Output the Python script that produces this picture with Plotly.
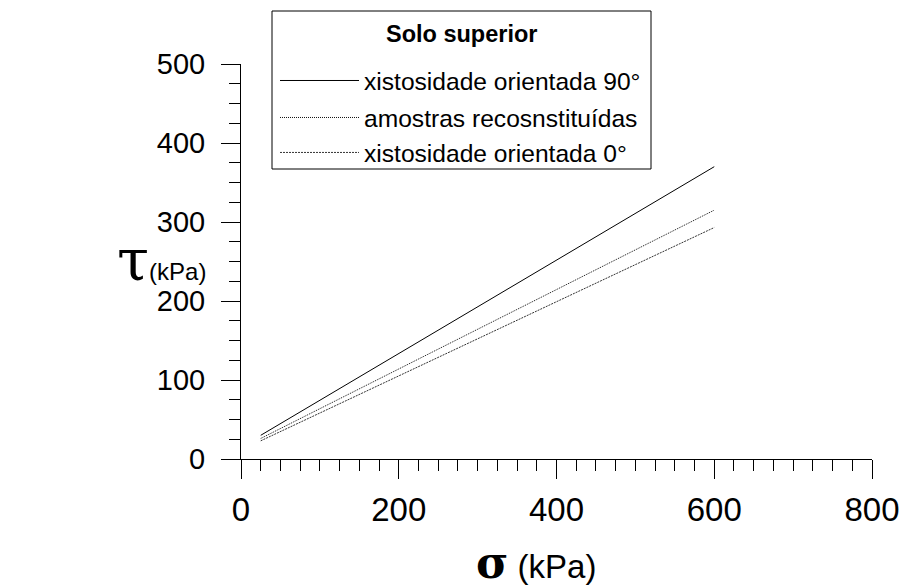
import plotly.graph_objects as go

# Data
sigma = [25, 600]
tau_90 = [30, 370]
tau_rec = [26, 315]
tau_0 = [23, 293]
names = ["xistosidade orientada 90°", "amostras recosnstituídas", "xistosidade orientada 0°"]
legend_title = "Solo superior"
x_ticks = [0, 200, 400, 600, 800]
y_ticks = [0, 100, 200, 300, 400, 500]

W, H = 904, 587
L, R, T, B = 241, 32, 64, 128
pw = W - L - R
ph = H - T - B

def px(xp):
    return (xp - L) / pw

def py(yp):
    return (H - B - yp) / ph

fig = go.Figure()
fig.add_trace(go.Scatter(x=sigma, y=tau_90, mode="lines", name=names[0], legendgroup="a",
                         line=dict(color="black", width=1)))
fig.add_trace(go.Scatter(x=sigma, y=tau_rec, mode="lines", name=names[1], legendgroup="b",
                         line=dict(color="#111111", width=1, dash="1px,1px")))
fig.add_trace(go.Scatter(x=sigma, y=tau_0, mode="lines", name=names[2], legendgroup="b",
                         line=dict(color="#333333", width=1, dash="2px,1px")))

fig.update_layout(
    width=W, height=H,
    margin=dict(l=L, r=R, t=T, b=B, pad=0, autoexpand=False),
    paper_bgcolor="white", plot_bgcolor="white",
    font=dict(family="Liberation Sans, Arial, sans-serif", color="black"),
    showlegend=True,
    legend=dict(
        x=px(275), y=py(58), xanchor="left", yanchor="top",
        borderwidth=0, bgcolor="rgba(0,0,0,0)",
        font=dict(size=24.6, color="black"),
        itemwidth=79, traceorder="grouped", tracegroupgap=2,
    ),
)

# legend frame and title
fig.add_shape(type="rect", xref="paper", yref="paper",
              x0=px(272), x1=px(651), y0=py(169), y1=py(11),
              line=dict(color="black", width=1), fillcolor="rgba(0,0,0,0)", layer="above")
fig.add_annotation(xref="paper", yref="paper", x=px(461), y=py(34), xanchor="center", yanchor="middle",
                   text="<b>" + legend_title + "</b>", font=dict(size=23.5), showarrow=False)

fig.update_xaxes(
    range=[0, 800], tickvals=x_ticks, showgrid=False, zeroline=False,
    showline=True, linecolor="black", linewidth=1, automargin=False,
    ticks="outside", ticklen=19, tickwidth=1, tickcolor="black",
    tickfont=dict(size=33), ticklabelstandoff=2,
    minor=dict(dtick=25, ticks="outside", ticklen=11, tickcolor="black", tickwidth=1, showgrid=False),
)
fig.update_yaxes(
    range=[0, 500], tickvals=y_ticks, showgrid=False, zeroline=False,
    showline=True, linecolor="black", linewidth=1, automargin=False,
    ticks="outside", ticklen=19, tickwidth=1, tickcolor="black",
    tickfont=dict(size=29), ticklabelstandoff=10,
    minor=dict(dtick=25, ticks="outside", ticklen=11, tickcolor="black", tickwidth=1, showgrid=False),
)

# Axis titles (horizontal, as in the reference)
fig.add_annotation(
    xref="paper", yref="paper", x=px(536), y=py(562), xanchor="center", yanchor="middle",
    text="<span style='font-family:DejaVu Serif;font-size:44px;font-weight:bold'>σ</span>"
         "<span style='font-size:33px'> (kPa)</span>",
    showarrow=False,
)
fig.add_annotation(
    xref="paper", yref="paper", x=px(208), y=py(260), xanchor="right", yanchor="middle",
    text="<span style='font-family:DejaVu Serif;font-size:58px'>τ</span>"
         "<span style='font-size:24px'>(kPa)</span>",
    showarrow=False,
)

fig.write_html("out.html")
